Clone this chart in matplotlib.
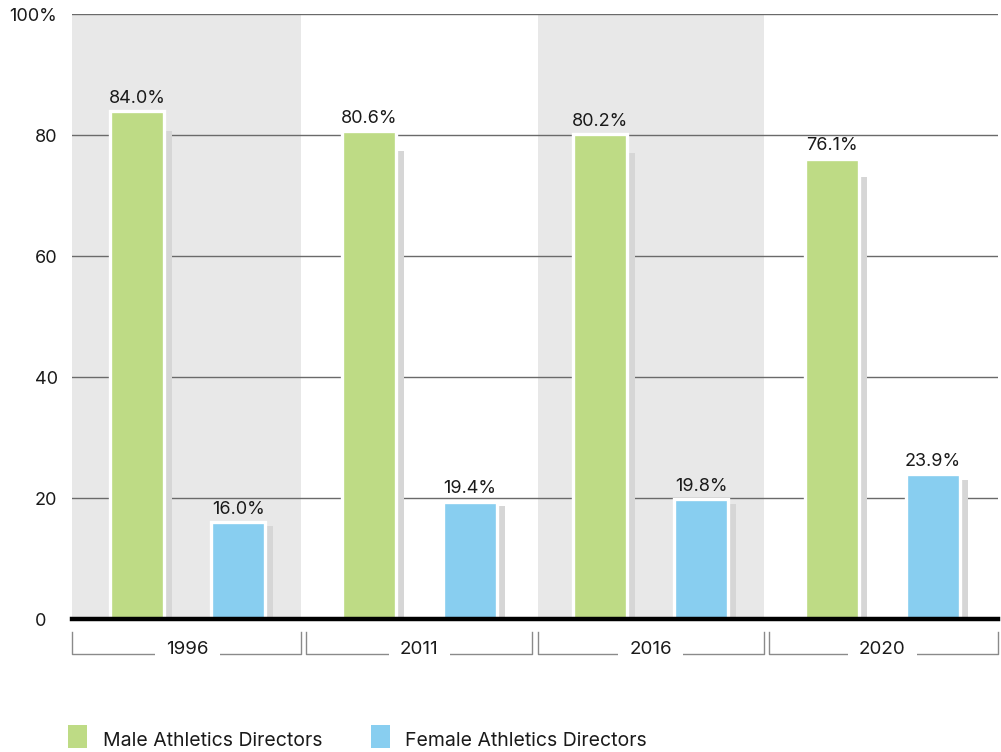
import numpy as np
import matplotlib.pyplot as plt
from matplotlib.patches import Rectangle

plt.rcParams['font.family'] = ['Inter', 'DejaVu Sans']

years = ['1996', '2011', '2016', '2020']
male = [84.0, 80.6, 80.2, 76.1]
female = [16.0, 19.4, 19.8, 23.9]
series_names = ['Male Athletics Directors', 'Female Athletics Directors']
yticks = [0, 20, 40, 60, 80, 100]
ytick_labels = ['0', '20', '40', '60', '80', '100%']

green = '#bedb85'
blue = '#88cef0'
band = '#e8e8e8'
shadow = '#d6d6d6'

W, H = 1001, 752
fig = plt.figure(figsize=(W / 100, H / 100), dpi=100)
ax = fig.add_axes([72 / W, 133 / H, 926 / W, 605 / H])
ax.set_xlim(-0.5, 3.5)
ax.set_ylim(0, 100)
for s in ax.spines.values():
    s.set_visible(False)
ax.set_xticks([])
ax.set_yticks(yticks)
ax.set_yticklabels([])
ax.tick_params(length=0)
ax.yaxis.grid(True, color='#6a6a6a', linewidth=1.0)
ax.set_axisbelow(True)

x = np.arange(len(years))
half = 0.488

def span(i):
    # first group is flush with the axes' left edge, last with the right edge
    l = -0.5 if i == 0 else i - half
    r = 3.5 if i == len(years) - 1 else i + half
    return l, r

for i in x:
    if i % 2 == 0:
        l, r = span(i)
        ax.axvspan(l, r, color=band, zorder=0, lw=0)

# bars with drop shadow
bw = 0.235
off = 0.218
sh = 8 / 231.5
for vals, pos, col in [(male, x - off, green), (female, x + off, blue)]:
    vals = np.array(vals)
    ax.bar(pos + sh, vals * 0.96, width=bw, color=shadow, lw=0, zorder=2)
    ax.bar(pos, vals, width=bw, color=col, edgecolor='white', lw=2.4, zorder=3)
    for p, v in zip(pos, vals):
        ax.annotate(f'{v:.1f}%', (p, v), xytext=(0, 3), textcoords='offset points',
                    ha='center', va='bottom', fontsize=13, color='#1a1a1a', zorder=4)

ax.axhline(0, color='black', lw=3.2, zorder=5, clip_on=False)

# y labels, left aligned
tr = ax.get_yaxis_transform()
for v, lab in zip(yticks, ytick_labels):
    xa = -0.068 if lab.endswith('%') else -0.040
    ax.text(xa, v - 0.4, lab, transform=tr, ha='left', va='center', fontsize=13, color='#1a1a1a')

# category brackets below the axis
xt = ax.get_xaxis_transform()
ax_h = 605
def ypx(p):
    return (619 - p) / ax_h
for i, yr in enumerate(years):
    l, r = span(i)
    ax.plot([l, l, r, r], [ypx(632), ypx(654), ypx(654), ypx(632)], transform=xt,
            color='#8a8a8a', lw=1.0, clip_on=False)
    ax.text(i, ypx(650), yr, transform=xt, ha='center', va='center', fontsize=13.5,
            color='#1a1a1a', bbox=dict(boxstyle='square,pad=0.6', fc='white', ec='none'))

# legend
for lx, tx, col, name in [(68, 103, green, series_names[0]), (371, 405, blue, series_names[1])]:
    fig.patches.append(Rectangle((lx / W, (H - 748) / H), 19 / W, 23 / H,
                                 transform=fig.transFigure, fc=col, ec='none'))
    fig.text(tx / W, (H - 746) / H, name, ha='left', va='baseline', fontsize=14, color='#1a1a1a')

fig.savefig('out.png', dpi=100)
